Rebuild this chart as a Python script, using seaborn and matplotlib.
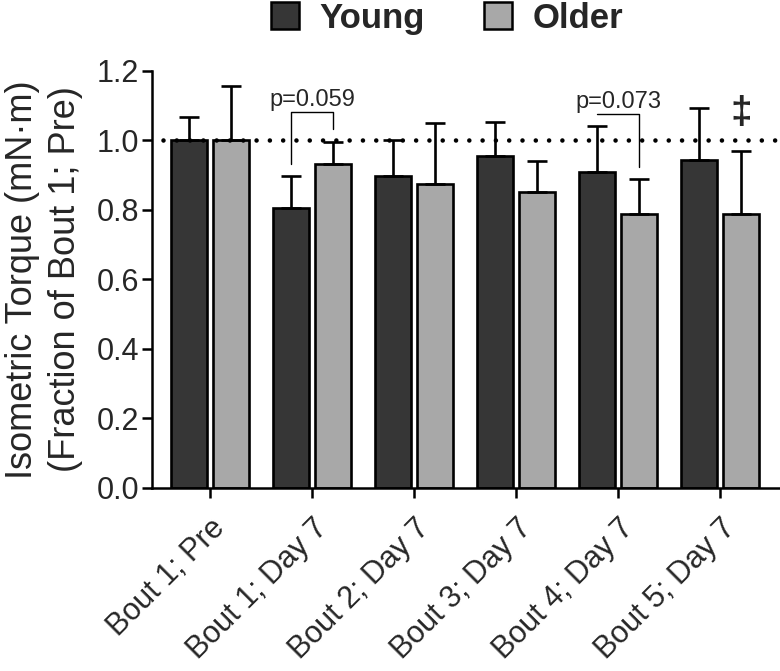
import numpy as np
import pandas as pd
import matplotlib
matplotlib.use("Agg")
import matplotlib.pyplot as plt
import seaborn as sns
from matplotlib.patches import Patch

# data
categories = ['Bout 1; Pre', 'Bout 1; Day 7', 'Bout 2; Day 7',
              'Bout 3; Day 7', 'Bout 4; Day 7', 'Bout 5; Day 7']
groups = ['Young', 'Older']
young_mean = [1.000, 0.804, 0.898, 0.955, 0.909, 0.943]
young_sd = [0.068, 0.092, 0.102, 0.098, 0.132, 0.151]
older_mean = [1.000, 0.931, 0.875, 0.852, 0.789, 0.789]
older_sd = [0.157, 0.065, 0.174, 0.089, 0.098, 0.180]

# comparisons: (category index, label, bracket top)
brackets = [(1, 'p=0.059', 1.080), (4, 'p=0.073', 1.075)]
dagger_idx = 5  # Older differs from Bout 1; Pre

colors = {'Young': '#363636', 'Older': '#a8a8a8'}

df = pd.DataFrame({
    'bout': categories * 2,
    'group': ['Young'] * len(categories) + ['Older'] * len(categories),
    'torque': young_mean + older_mean,
})
sd = {'Young': young_sd, 'Older': older_sd}

sns.set_style('ticks')
plt.rcParams['font.family'] = ['Liberation Sans', 'DejaVu Sans']

fig = plt.figure(figsize=(7.8, 6.71), dpi=100)
ax = fig.add_axes([0.1945, 0.2732, 0.8055, 0.6214])

sns.barplot(data=df, x='bout', y='torque', hue='group', hue_order=groups,
            palette=colors, width=0.82, gap=0.15, errorbar=None,
            edgecolor='black', linewidth=1.9, legend=False, ax=ax, zorder=2)

# one-sided SD bars
caps = {}
for cont, g in zip(ax.containers, groups):
    xs = np.array([b.get_x() + b.get_width() / 2 for b in cont])
    ys = np.array([b.get_height() for b in cont])
    err = np.array(sd[g])
    ax.errorbar(xs, ys, yerr=[np.zeros_like(err), err], fmt='none',
                ecolor='black', elinewidth=1.9, capsize=7, capthick=1.9, zorder=3)
    caps[g] = (xs, ys + err)

# dotted reference line at 1.0
ax.axhline(1.0, xmin=0.018, color='black', lw=3.3,
           linestyle=(0, (0.001, 2.9)), dash_capstyle='round', zorder=4)

# brackets
for i, lab, top in brackets:
    xl, yl = caps['Young'][0][i], caps['Young'][1][i] + 0.035
    xr, yr = caps['Older'][0][i], caps['Older'][1][i] + 0.035
    ax.plot([xl, xl, xr, xr], [min(yl, top), top, top, min(yr, top)],
            color='black', lw=1.0, zorder=4)
    ax.text((xl + xr) / 2, top + 0.018, lab, ha='center', va='baseline', fontsize=17)

ax.text(caps['Older'][0][dagger_idx], 1.077, '\u2021', ha='center', va='center',
        fontsize=28, fontweight='bold')

ax.set_ylim(0, 1.2)
ax.set_xlim(-0.572, 5.588)
ax.set_yticks(np.arange(0, 1.21, 0.2))
ax.set_yticklabels([f'{v:.1f}' for v in np.arange(0, 1.21, 0.2)])
ax.set_xlabel('')
ax.set_ylabel('Isometric Torque (mN\u00b7m)\n(Fraction of Bout 1; Pre)',
              fontsize=26, linespacing=1.28, labelpad=10)
ax.tick_params(axis='both', width=1.8, length=7, color='black')
ax.tick_params(axis='y', pad=2, labelsize=22)
ax.tick_params(axis='x', pad=11, labelsize=22)
plt.setp(ax.get_xticklabels(), rotation=45, ha='right', rotation_mode='anchor')
sns.despine(ax=ax)
for s in ['left', 'bottom']:
    ax.spines[s].set_linewidth(1.8)
    ax.spines[s].set_color('black')

handles = [Patch(facecolor=colors[g], edgecolor='black', linewidth=1.8, label=g)
           for g in groups]
fig.legend(handles=handles, loc='center', bbox_to_anchor=(0.573, 0.973), ncol=2,
           frameon=False, prop={'size': 25, 'weight': 'bold'},
           handlelength=0.8, handleheight=0.8, handletextpad=0.6, columnspacing=1.7)

fig.savefig('out.png', dpi=100)
